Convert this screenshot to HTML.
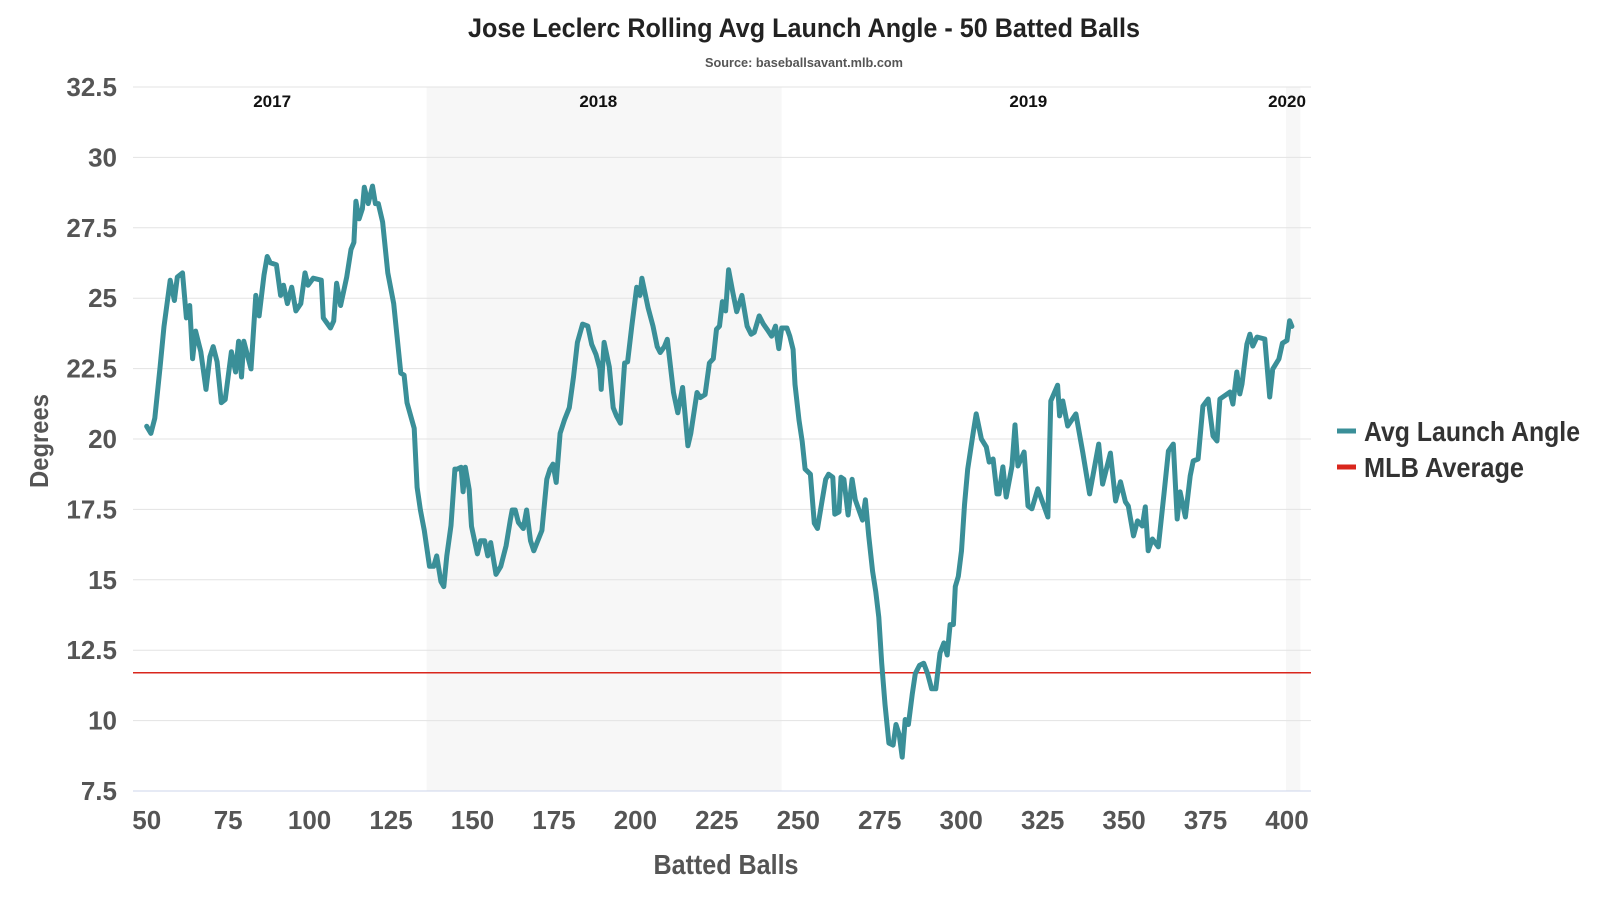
<!DOCTYPE html>
<html><head><meta charset="utf-8">
<style>
html,body{margin:0;padding:0;background:#fff;}
svg{display:block;font-family:"Liberation Sans Narrow","Liberation Sans",sans-serif;}
</style></head>
<body>
<svg id="chart" width="1600" height="900" viewBox="0 0 1600 900">
<text x="804" y="37" text-anchor="middle" font-size="27" font-weight="bold" fill="#222" textLength="672" lengthAdjust="spacingAndGlyphs">Jose Leclerc Rolling Avg Launch Angle - 50 Batted Balls</text>
<text x="804" y="67" text-anchor="middle" font-size="13" font-weight="bold" fill="#555" textLength="198" lengthAdjust="spacingAndGlyphs">Source: baseballsavant.mlb.com</text>
<g id="bands"></g><g id="grid"></g><g id="marks"></g><g id="axes"></g>
<text transform="translate(48,441) rotate(-90)" text-anchor="middle" font-size="26" font-weight="bold" fill="#555" textLength="94" lengthAdjust="spacingAndGlyphs">Degrees</text>
<text x="726" y="874" text-anchor="middle" font-size="28" font-weight="bold" fill="#555" textLength="145" lengthAdjust="spacingAndGlyphs">Batted Balls</text>
<g>
<line x1="1337" y1="431" x2="1356" y2="431" stroke="#3a8f98" stroke-width="5"/>
<text x="1364" y="441" font-size="28" font-weight="bold" fill="#333" textLength="216" lengthAdjust="spacingAndGlyphs">Avg Launch Angle</text>
<line x1="1337" y1="467" x2="1356" y2="467" stroke="#d9261c" stroke-width="5"/>
<text x="1364" y="477" font-size="28" font-weight="bold" fill="#333" textLength="160" lengthAdjust="spacingAndGlyphs">MLB Average</text>
</g>
</svg>
<script>
const xTicks=[50,75,100,125,150,175,200,225,250,275,300,325,350,375,400];
const yTicks=[7.5,10,12.5,15,17.5,20,22.5,25,27.5,30,32.5];
const yearLabels=["2017","2018","2019","2020"];
const yearCenters=[88.5,188.6,320.6,400];
const yearBandStarts=[135.9,399.7];
const yearBandEnds=[244.9,404.1];
const mlbAverage=11.7;
const battedBalls=[50,51.3,52.5,54.1,55.3,57.2,58.5,59.4,61.0,62.2,63.2,64.1,65.0,66.6,68.2,69.4,70.4,71.6,72.9,74.1,76.0,77.3,78.2,79.1,79.8,82.0,83.5,84.5,86.0,87.0,87.9,89.8,91.1,92.0,93.2,94.5,95.8,97.3,98.6,99.5,101.1,103.6,104.2,106.4,107.4,108.3,109.5,111.4,112.7,113.6,114.2,115.2,116.2,116.8,118.0,119.3,120.2,121.1,122.4,124.0,125.8,128.0,129.0,129.9,132.1,133.0,134.0,135.2,136.8,138.1,139.0,140.3,141.2,142.1,143.4,144.6,145.3,146.5,147.1,147.8,149.0,149.7,151.5,152.5,153.7,154.7,155.6,157.2,158.7,160.3,161.6,162.2,163.1,164.1,165.6,166.6,167.8,168.8,170.3,171.3,172.8,173.8,174.7,175.7,176.9,178.2,179.7,181.0,182.2,183.8,185.4,186.6,187.9,189.1,189.5,190.4,192.0,193.2,194.2,195.4,196.7,197.6,198.9,200.4,201.4,202.0,203.9,205.4,206.7,207.6,208.9,209.8,211.7,213.0,214.5,216.1,217.0,218.9,219.9,221.4,222.7,223.9,224.9,225.8,226.7,227.7,228.6,229.9,231.1,232.7,234.3,235.5,236.5,238.0,239.3,240.8,241.8,243.0,244.0,244.9,246.5,247.4,248.4,249.0,250.2,251.2,252.1,253.7,254.9,255.9,257.1,258.4,259.3,260.6,261.2,262.5,263.1,264.0,265.3,266.5,267.5,268.4,269.7,270.6,271.6,272.8,273.8,274.7,275.6,276.6,277.8,279.1,280.0,281.0,281.9,282.8,283.8,285.0,285.9,287.2,288.5,289.7,290.9,292.2,293.5,294.7,295.7,296.6,297.6,298.2,299.1,300.1,301.0,302.0,303.7,304.6,306.2,307.7,308.6,309.8,311.0,311.6,312.8,313.8,315.6,316.5,317.4,319.3,320.5,321.7,323.5,326.6,327.5,329.6,330.2,331.2,332.7,335.2,337.3,339.4,342.2,343.4,345.8,347.4,348.9,350.4,351.3,352.9,354.1,355.6,356.5,357.4,358.7,360.5,362.3,363.6,365.1,366.3,367.2,368.8,370.3,371.2,372.7,374.2,375.8,377.3,378.5,379.4,382.5,383.4,384.6,385.5,386.2,387.7,388.6,389.5,390.8,393.2,394.7,395.6,397.5,398.6,400.0,400.8,401.5];
const launchAngle=[20.45,20.2,20.74,22.56,24.0,25.64,24.92,25.75,25.9,24.3,24.74,22.85,23.83,23.1,21.76,22.92,23.28,22.74,21.29,21.4,23.1,22.38,23.47,22.2,23.47,22.49,25.1,24.37,25.82,26.48,26.26,26.19,25.1,25.46,24.81,25.39,24.55,24.81,25.9,25.46,25.71,25.64,24.3,23.94,24.19,25.53,24.74,25.75,26.73,26.98,28.44,27.82,28.18,28.94,28.36,28.98,28.36,28.36,27.71,25.9,24.81,22.34,22.27,21.29,20.38,18.28,17.48,16.75,15.48,15.48,15.85,14.94,14.76,15.85,16.93,18.93,18.93,19.0,18.13,19.0,18.2,16.9,15.92,16.39,16.39,15.85,16.32,15.19,15.48,16.21,17.12,17.48,17.48,17.04,16.82,17.48,16.39,16.03,16.46,16.75,18.57,18.93,19.11,18.46,20.2,20.67,21.11,22.2,23.43,24.08,24.01,23.36,23.0,22.49,21.76,23.43,22.56,21.11,20.82,20.56,22.7,22.74,24.01,25.39,25.1,25.71,24.66,24.01,23.28,23.07,23.28,23.54,21.65,20.93,21.83,19.76,20.2,21.65,21.47,21.58,22.7,22.85,23.9,24.01,24.88,24.55,26.01,25.21,24.52,25.1,24.01,23.72,23.79,24.37,24.08,23.83,23.65,24.01,23.21,23.94,23.94,23.65,23.18,21.94,20.67,19.91,18.93,18.75,17.01,16.82,17.66,18.57,18.75,18.64,17.33,17.41,18.64,18.57,17.3,18.57,17.84,17.55,17.12,17.84,16.57,15.3,14.57,13.67,12.04,10.58,9.2,9.13,9.86,9.49,8.7,10.04,9.86,10.95,11.67,11.96,12.04,11.67,11.13,11.13,12.4,12.76,12.33,13.41,13.41,14.76,15.12,16.03,17.66,18.93,20.25,20.89,20.0,19.72,19.18,19.29,18.05,18.05,19.01,17.94,19.04,20.5,19.04,19.54,17.62,17.52,18.23,17.23,21.35,21.91,20.82,21.35,20.46,20.89,19.54,18.05,19.82,18.4,19.5,17.8,18.48,17.77,17.62,16.56,17.09,16.91,17.59,16.03,16.45,16.17,18.12,19.57,19.82,17.16,18.12,17.23,18.69,19.22,19.29,21.17,21.42,20.11,19.93,21.42,21.67,21.24,22.38,21.6,21.95,23.37,23.72,23.3,23.62,23.55,21.49,22.48,22.84,23.4,23.5,24.2,24.0,23.7];

const NS="http://www.w3.org/2000/svg";
const X0=146.7, XS=3.258, Y0=87, YS=28.16, PL=133, PR=1311;
function xs(v){return X0+(v-50)*XS;}
function ys(v){return Y0+(32.5-v)*YS;}
function mk(tag,attrs,parent){const e=document.createElementNS(NS,tag);for(const k in attrs)e.setAttribute(k,attrs[k]);parent.appendChild(e);return e;}
const bands=document.getElementById('bands'),grid=document.getElementById('grid'),marks=document.getElementById('marks'),axes=document.getElementById('axes');

yearBandStarts.forEach((s,i)=>{
  const r=mk('rect',{x:xs(s),y:ys(32.5),width:xs(yearBandEnds[i])-xs(s),height:ys(7.5)-ys(32.5),fill:'#f7f7f7'},bands);
  
  
});
yTicks.forEach(t=>{
  const l=mk('line',{x1:PL,x2:PR,y1:ys(t),y2:ys(t),stroke:t===7.5?'#ccd6eb':'#e3e3e3','stroke-width':1},grid);
  
  
  const tx=mk('text',{x:117,y:ys(t)+9,'text-anchor':'end','font-size':26,'font-weight':'bold',fill:'#555'},axes);
  tx.textContent=String(t);
  
  
});
xTicks.forEach(t=>{
  const tx=mk('text',{x:xs(t),y:829,'text-anchor':'middle','font-size':26,'font-weight':'bold',fill:'#555'},axes);
  tx.textContent=String(t);
  
  
});
yearLabels.forEach((y,i)=>{
  const tx=mk('text',{x:xs(yearCenters[i]),y:107,'text-anchor':'middle','font-size':17,'font-weight':'bold',fill:'#111'},axes);
  tx.textContent=y;
  
  
});
const ml=mk('line',{x1:PL,x2:PR,y1:ys(mlbAverage),y2:ys(mlbAverage),stroke:'#d9261c','stroke-width':1.5},marks);


const pts=battedBalls.map((b,i)=>xs(b).toFixed(1)+','+ys(launchAngle[i]).toFixed(1)).join(' ');
const pl=mk('polyline',{points:pts,fill:'none',stroke:'#3a8f98','stroke-width':5,'stroke-linejoin':'round','stroke-linecap':'round'},marks);


</script>
</body></html>
